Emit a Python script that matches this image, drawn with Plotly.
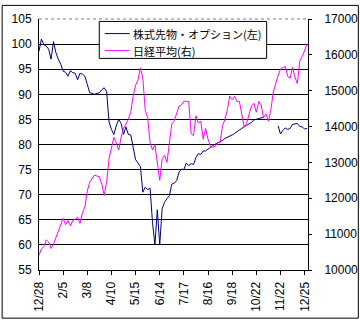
import plotly.graph_objects as go

# ---- data ----
tick_labels = ["12/28", "2/5", "3/8", "4/10", "5/15", "6/14", "7/17",
               "8/16", "9/18", "10/22", "11/22", "12/25"]

futures_options = [
    98.6, 101.0, 99.9, 99.6, 99.0, 97.0, 100.5, 98.3, 97.0, 96.0,
    94.6, 94.4, 93.6, 94.7, 94.3, 94.2, 92.9, 94.2, 94.0, 93.6,
    92.0, 90.3, 90.2, 90.0, 90.2, 90.3, 90.9, 91.3, 90.6, 84.5,
    83.0, 82.0, 83.7, 85.0, 84.2, 82.0, 83.5, 82.0, 81.9, 79.0,
    77.0, 76.3, 75.6, 70.5, 71.5, 71.0, 71.3, 64.5, 60.0, 67.0,
    60.0, 67.2, 68.5, 69.2, 69.8, 72.1, 72.3, 72.8, 74.5, 75.1,
    75.0, 76.3, 75.8, 76.2, 76.0, 77.4, 78.2, 78.0, 78.7, 78.7,
    79.1, 79.4, 79.8, 80.1, 80.3, 80.5, 80.8, 81.2, 81.4, 81.7,
    81.9, 82.2, 82.6, 82.9, 83.2, 83.6, 83.8, 84.1, 84.4, 84.9,
    85.0, 85.1, 85.3, 85.4, None, None, None, None, None, 83.7,
    82.1, 82.8, 83.3, 83.0, 83.2, 84.0, 84.1, 84.2, 83.6, 83.5,
    83.1, 83.2,
]

nikkei = [
    10408, 10590, 10650, 10840, 10780, 10600, 10720, 10900, 11080, 11220,
    11440, 11265, 11380, 11230, 11380, 11420, 11470, 11300, 11600, 11760,
    12200, 12450, 12560, 12650, 12620, 12600, 12400, 12080, 12450, 13100,
    13400, 13700, 13550, 13350, 13700, 13950, 14070, 14200, 14400, 14850,
    15150, 15300, 15640, 15350, 14450, 14250, 13550, 13350, 13500, 12950,
    12500, 13100, 13200, 13000, 13500, 14070, 14160, 14350, 14570, 14600,
    14710, 14700, 14700, 13800, 13750, 14300, 14100, 14150, 13650, 13950,
    13650, 13450, 13420, 13450, 13550, 13550, 14020, 14200, 14470, 14850,
    14750, 14850, 14700, 14700, 14300, 13980, 14100, 14330, 14580, 14650,
    14400, 14700, 14600, 14250, 14350, 14150, 14450, 14950, 15200, 15420,
    15600, 15650, 15680, 15400, 15350, 15650, 15380, 15200, 15830, 15950,
    16120, 16300,
]

series_names = ["株式先物・オプション(左)", "日経平均(右)"]
colors = ["#000080", "#FF00FF"]

x_idx = list(range(len(nikkei)))
tick_pos = list(range(0, 10 * len(tick_labels), 10))

# ---- layout geometry (pixels) ----
W, H = 360, 324
ML, MR, MT, MB = 38, 52, 15, 51
PW, PH = W - ML - MR, H - MT - MB


def px(x):
    return (x - ML) / PW


def py(y):
    return (H - MB - y) / PH


fig = go.Figure()
fig.add_trace(go.Scatter(x=x_idx, y=futures_options, mode="lines",
                         line=dict(color=colors[0], width=1),
                         name=series_names[0], yaxis="y",
                         connectgaps=False, showlegend=False))
fig.add_trace(go.Scatter(x=x_idx, y=nikkei, mode="lines",
                         line=dict(color=colors[1], width=1),
                         name=series_names[1], yaxis="y2",
                         showlegend=False))

tick_font = dict(family="Liberation Sans, Arial, sans-serif", size=12, color="black")

fig.update_layout(
    width=W, height=H,
    margin=dict(l=ML, r=MR, t=MT, b=MB, pad=0),
    paper_bgcolor="white", plot_bgcolor="white",
    xaxis=dict(range=[0, 111.4], tickvals=tick_pos, ticktext=tick_labels,
               tickangle=-90, showgrid=False, zeroline=False,
               showline=True, linecolor="black", linewidth=1,
               ticks="outside", ticklen=4, tickcolor="black",
               tickfont=tick_font, ticklabelstandoff=2),
    yaxis=dict(range=[55, 105], dtick=5, tick0=55, showgrid=True,
               gridcolor="black", gridwidth=1, zeroline=False,
               showline=True, linecolor="black", linewidth=1,
               ticks="", tickfont=tick_font, ticklabelstandoff=4),
    yaxis2=dict(range=[10000, 17000], dtick=1000, tick0=10000,
                tickformat="d",
                overlaying="y", side="right", showgrid=False,
                zeroline=False, showline=True, linecolor="black",
                linewidth=1, ticks="outside", ticklen=3,
                tickcolor="black", tickfont=tick_font,
                ticklabelstandoff=10, automargin=False),
    showlegend=False,
)

shapes = []
# top border of plot area: hide black gridline at 105, draw gray dotted
shapes.append(dict(type="line", xref="paper", yref="paper", x0=0, x1=1,
                   y0=1, y1=1, line=dict(color="white", width=2), layer="above"))
shapes.append(dict(type="line", xref="paper", yref="paper", x0=0, x1=1,
                   y0=1, y1=1, line=dict(color="#808080", width=1, dash="dot"),
                   layer="above"))
# outer chart border
shapes.append(dict(type="rect", xref="paper", yref="paper",
                   x0=px(1), x1=px(358.5), y0=py(322.5), y1=py(1),
                   line=dict(color="black", width=1), layer="above"))
# legend box
shapes.append(dict(type="rect", xref="paper", yref="paper",
                   x0=px(98.5), x1=px(266.5), y0=py(55.5), y1=py(17.5),
                   line=dict(color="black", width=1), fillcolor="white",
                   layer="above"))
rows_y = [30, 47.5]
for c, ry in zip(colors, rows_y):
    shapes.append(dict(type="line", xref="paper", yref="paper",
                       x0=px(104), x1=px(129), y0=py(ry), y1=py(ry),
                       line=dict(color=c, width=1), layer="above"))
fig.update_layout(shapes=shapes)

for name, ry in zip(series_names, rows_y):
    fig.add_annotation(xref="paper", yref="paper", x=px(130), y=py(ry),
                       xanchor="left", yanchor="middle", showarrow=False,
                       text=name,
                       font=dict(family="Noto Sans CJK JP", size=11, color="black"))

fig.write_html("out.html")
